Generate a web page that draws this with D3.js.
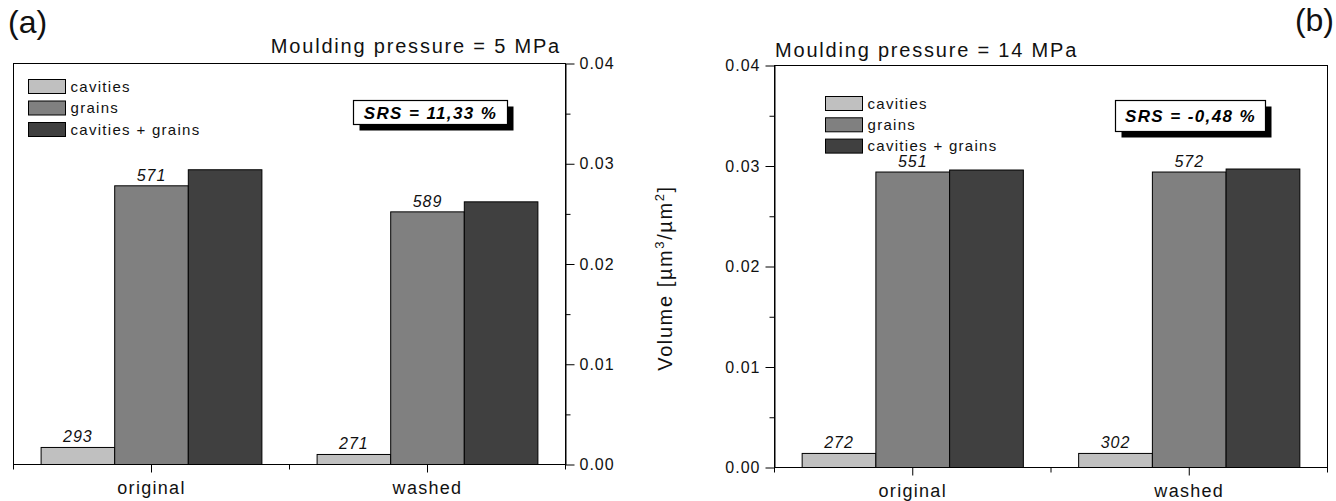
<!DOCTYPE html>
<html>
<head>
<meta charset="utf-8">
<script src="https://cdn.jsdelivr.net/npm/d3@7/dist/d3.min.js"></script>
<style>
  body { margin: 0; background: #fff; }
  svg { display: block; font-family: "Liberation Sans", Arial, sans-serif; }
</style>
</head>
<body>
<svg id="chart" width="1336" height="501"></svg>
<script>
// ---- data ----
const categories = ["original", "washed"];
const seriesNames = ["cavities", "grains", "cavities + grains"];
const seriesColors = ["#c0c0c0", "#808080", "#404040"];
const yTickValues = [0, 0.01, 0.02, 0.03, 0.04];
const yMinorTickValues = [0.005, 0.015, 0.025, 0.035];

// moulding pressure 5 MPa  (volume, µm³/µm²)
const cavities5 = [0.0017, 0.0010];
const grains5 = [0.0278, 0.0252];
const total5 = [0.0294, 0.0262];
const cavityLabels5 = ["293", "271"];
const grainLabels5 = ["571", "589"];

// moulding pressure 14 MPa
const cavities14 = [0.0014, 0.0014];
const grains14 = [0.0294, 0.0294];
const total14 = [0.0296, 0.0297];
const cavityLabels14 = ["272", "302"];
const grainLabels14 = ["551", "572"];

const svg = d3.select("#chart");
const FONT_TICK = 16;

function drawPanel(p) {
  const g = svg.append("g");
  const x0 = d3.scaleBand().domain(categories).range([p.left, p.right]).padding(0);
  const x1 = d3.scaleBand().domain(seriesNames)
    .range([-0.4 * x0.bandwidth(), 0.4 * x0.bandwidth()]).padding(0);
  const y = d3.scaleLinear().domain([0, 0.04]).range([p.bottom, p.top]);

  const seriesValues = [p.cavities, p.grains, p.total];

  // frame
  g.append("rect")
    .attr("x", p.left).attr("y", p.top)
    .attr("width", p.right - p.left).attr("height", p.bottom - p.top)
    .attr("fill", "none").attr("stroke", "#000").attr("stroke-width", 1);

  // bars
  categories.forEach((c, ci) => {
    const cx = x0(c) + x0.bandwidth() / 2;
    seriesNames.forEach((s, si) => {
      const v = seriesValues[si][ci];
      g.append("rect")
        .attr("x", cx + x1(s)).attr("y", y(v))
        .attr("width", x1.bandwidth()).attr("height", y(0) - y(v))
        .attr("fill", seriesColors[si]).attr("stroke", "#000").attr("stroke-width", 1);
    });
    // value labels above cavities and grains bars
    [[p.cavityLabels, 0], [p.grainLabels, 1]].forEach(([labels, si]) => {
      const s = seriesNames[si];
      g.append("text")
        .attr("x", cx + x1(s) + x1.bandwidth() / 2)
        .attr("y", y(seriesValues[si][ci]) - 5)
        .attr("text-anchor", "middle")
        .attr("font-size", 16).attr("font-style", "italic")
        .attr("letter-spacing", 1)
        .attr("fill", "#111")
        .text(labels[ci]);
    });
  });

  // y axis (major + minor ticks)
  const axisFn = p.yRight ? d3.axisRight : d3.axisLeft;
  const yAxisX = p.yRight ? p.right : p.left;
  const yAxis = g.append("g").attr("transform", `translate(${yAxisX},0)`)
    .call(axisFn(y).tickValues(yTickValues).tickFormat(d3.format(".2f"))
      .tickSize(9).tickSizeOuter(0).tickPadding(5));
  yAxis.selectAll("text").attr("font-size", FONT_TICK).attr("letter-spacing", 1)
    .attr("fill", "#111").attr("font-family", "Liberation Sans, Arial, sans-serif");
  g.append("g").attr("transform", `translate(${yAxisX},0)`)
    .call(axisFn(y).tickValues(yMinorTickValues).tickFormat("").tickSize(5).tickSizeOuter(0))
    .select(".domain").remove();

  // x axis: major ticks at categories, minor ticks at band edges
  const xAxis = g.append("g").attr("transform", `translate(0,${p.bottom})`)
    .call(d3.axisBottom(x0).tickSize(8).tickSizeOuter(0).tickPadding(p.catPad));
  xAxis.select(".domain").remove();
  xAxis.selectAll("text").attr("font-size", 18).attr("letter-spacing", 1.3)
    .attr("fill", "#111").attr("font-family", "Liberation Sans, Arial, sans-serif");
  const edges = [x0(categories[0]), x0(categories[1]), x0(categories[1]) + x0.bandwidth()];
  g.selectAll(null).data(edges).enter().append("line")
    .attr("x1", d => d).attr("x2", d => d)
    .attr("y1", p.bottom).attr("y2", p.bottom + 5)
    .attr("stroke", "#000");

  // title
  g.append("text")
    .attr("x", p.titleX).attr("y", p.titleY)
    .attr("text-anchor", p.titleAnchor)
    .attr("font-size", 20).attr("letter-spacing", 1.8).attr("fill", "#111")
    .text(p.title);

  // panel letter
  g.append("text")
    .attr("x", p.letterX).attr("y", p.letterY)
    .attr("text-anchor", p.letterAnchor)
    .attr("font-size", 32).attr("fill", "#111")
    .text(p.letter);

  // legend
  seriesNames.forEach((s, i) => {
    const ly = p.legendY + i * p.legendStep;
    g.append("rect")
      .attr("x", p.legendX).attr("y", ly)
      .attr("width", 37).attr("height", 14)
      .attr("fill", seriesColors[i]).attr("stroke", "#000").attr("stroke-width", 1);
    g.append("text")
      .attr("x", p.legendX + 42).attr("y", ly + 12)
      .attr("font-size", 15).attr("letter-spacing", 1.3).attr("fill", "#111")
      .text(s);
  });

  // SRS box with drop shadow
  const b = p.srsBox;
  g.append("rect").attr("x", b.x + 6).attr("y", b.y + 6)
    .attr("width", b.w).attr("height", b.h).attr("fill", "#000");
  g.append("rect").attr("x", b.x).attr("y", b.y)
    .attr("width", b.w).attr("height", b.h)
    .attr("fill", "#fff").attr("stroke", "#000").attr("stroke-width", 1.2);
  g.append("text")
    .attr("x", b.x + b.w / 2).attr("y", b.y + b.h / 2 + 6)
    .attr("text-anchor", "middle")
    .attr("font-size", 17).attr("font-weight", "bold").attr("font-style", "italic")
    .attr("letter-spacing", 1.4).attr("fill", "#000")
    .text(p.srs);
}

drawPanel({
  left: 13.5, right: 565.5, top: 63.5, bottom: 464.5, yRight: true,
  cavities: cavities5, grains: grains5, total: total5,
  cavityLabels: cavityLabels5, grainLabels: grainLabels5,
  title: "Moulding pressure = 5 MPa", titleX: 561, titleY: 53, titleAnchor: "end",
  letter: "(a)", letterX: 8, letterY: 33, letterAnchor: "start",
  legendX: 28.5, legendY: 79.5, legendStep: 21.5,
  srsBox: { x: 353.5, y: 100.5, w: 154, h: 24 },
  srs: "SRS = 11,33 %",
  catPad: 9
});

drawPanel({
  left: 774.5, right: 1327.5, top: 65.5, bottom: 467.5, yRight: false,
  cavities: cavities14, grains: grains14, total: total14,
  cavityLabels: cavityLabels14, grainLabels: grainLabels14,
  title: "Moulding pressure = 14 MPa", titleX: 775, titleY: 57, titleAnchor: "start",
  letter: "(b)", letterX: 1334, letterY: 31, letterAnchor: "end",
  legendX: 825.5, legendY: 96.5, legendStep: 21.3,
  srsBox: { x: 1115.5, y: 100.5, w: 150, h: 31 },
  srs: "SRS = -0,48 %",
  catPad: 9
});

// shared y-axis title
svg.append("text")
  .attr("transform", "translate(672,278) rotate(-90)")
  .attr("text-anchor", "middle")
  .attr("font-size", 20).attr("letter-spacing", 1.6).attr("fill", "#111")
  .call(t => {
    t.append("tspan").text("Volume [µm");
    t.append("tspan").attr("font-size", 13).attr("dy", -8).text("3");
    t.append("tspan").attr("dy", 8).text("/µm");
    t.append("tspan").attr("font-size", 13).attr("dy", -8).text("2");
    t.append("tspan").attr("dy", 8).text("]");
  });
</script>
</body>
</html>
